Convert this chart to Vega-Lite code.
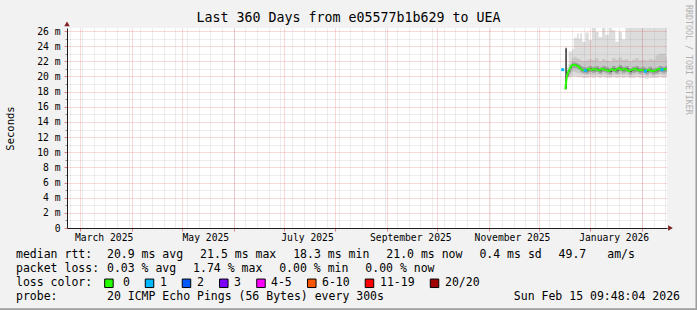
{
  "$schema": "https://vega.github.io/schema/vega-lite/v6.json",
  "width": 600,
  "height": 200,
  "autosize": "none",
  "padding": {"left": 67, "top": 28, "right": 30, "bottom": 82},
  "background": "#f2f2f2",
  "config": {
    "font": "DejaVu Sans Mono",
    "view": {"stroke": null, "fill": "#ffffff"},
    "text": {"font": "DejaVu Sans Mono"}
  },
  "datasets": {
    "pings": [
      {"t": "2025-12-15T10:00:00Z", "med": 20.9, "lc": "1", "seg": 0, "b1lo": null, "b1hi": null, "b2lo": null, "b2hi": null, "b3lo": null, "b3hi": null, "b4lo": null, "b4hi": null},
      {"t": "2025-12-17T00:00:00Z", "med": 18.3, "lc": "0", "seg": 1, "b1lo": 18.3, "b1hi": 23.8, "b2lo": 18.3, "b2hi": 23.8, "b3lo": 18.3, "b3hi": 23.8, "b4lo": 18.4, "b4hi": 23.7},
      {"t": "2025-12-18T00:00:00Z", "med": 20.2, "lc": "0", "seg": 1, "b1lo": 19.8, "b1hi": 21.2, "b2lo": 19.9, "b2hi": 20.8, "b3lo": 20.0, "b3hi": 20.5, "b4lo": 20.1, "b4hi": 20.3},
      {"t": "2025-12-19T00:00:00Z", "med": 20.7, "lc": "0", "seg": 1, "b1lo": 19.8, "b1hi": 23.3, "b2lo": 20.0, "b2hi": 21.6, "b3lo": 20.3, "b3hi": 21.0, "b4lo": 20.6, "b4hi": 20.8},
      {"t": "2025-12-20T00:00:00Z", "med": 21.2, "lc": "0", "seg": 1, "b1lo": 19.9, "b1hi": 23.3, "b2lo": 20.3, "b2hi": 22.0, "b3lo": 20.8, "b3hi": 21.5, "b4lo": 21.1, "b4hi": 21.3},
      {"t": "2025-12-21T00:00:00Z", "med": 21.5, "lc": "0", "seg": 1, "b1lo": 20.0, "b1hi": 23.6, "b2lo": 20.6, "b2hi": 22.4, "b3lo": 21.1, "b3hi": 21.8, "b4lo": 21.4, "b4hi": 21.6},
      {"t": "2025-12-22T00:00:00Z", "med": 21.5, "lc": "0", "seg": 1, "b1lo": 20.0, "b1hi": 25.1, "b2lo": 20.6, "b2hi": 22.6, "b3lo": 21.1, "b3hi": 21.9, "b4lo": 21.4, "b4hi": 21.6},
      {"t": "2025-12-23T00:00:00Z", "med": 21.5, "lc": "0", "seg": 1, "b1lo": 20.0, "b1hi": 25.1, "b2lo": 20.5, "b2hi": 22.5, "b3lo": 21.1, "b3hi": 21.8, "b4lo": 21.4, "b4hi": 21.6},
      {"t": "2025-12-24T00:00:00Z", "med": 21.4, "lc": "0", "seg": 1, "b1lo": 19.9, "b1hi": 25.7, "b2lo": 20.5, "b2hi": 22.4, "b3lo": 21.0, "b3hi": 21.7, "b4lo": 21.3, "b4hi": 21.5},
      {"t": "2025-12-25T00:00:00Z", "med": 21.3, "lc": "0", "seg": 1, "b1lo": 19.9, "b1hi": 25.0, "b2lo": 20.4, "b2hi": 22.3, "b3lo": 20.9, "b3hi": 21.6, "b4lo": 21.2, "b4hi": 21.4},
      {"t": "2025-12-26T00:00:00Z", "med": 21.0, "lc": "0", "seg": 1, "b1lo": 19.9, "b1hi": 25.7, "b2lo": 20.3, "b2hi": 22.1, "b3lo": 20.6, "b3hi": 21.4, "b4lo": 20.9, "b4hi": 21.1},
      {"t": "2025-12-27T00:00:00Z", "med": 20.9, "lc": "0", "seg": 1, "b1lo": 19.8, "b1hi": 24.6, "b2lo": 20.3, "b2hi": 22.0, "b3lo": 20.5, "b3hi": 21.3, "b4lo": 20.8, "b4hi": 21.0},
      {"t": "2025-12-29T00:00:00Z", "med": 20.8, "lc": "1", "seg": 1, "b1lo": 19.8, "b1hi": 25.8, "b2lo": 20.2, "b2hi": 22.1, "b3lo": 20.4, "b3hi": 21.2, "b4lo": 20.7, "b4hi": 20.9},
      {"t": "2025-12-31T00:00:00Z", "med": 21.0, "lc": "0", "seg": 1, "b1lo": 19.9, "b1hi": 24.8, "b2lo": 20.3, "b2hi": 22.3, "b3lo": 20.6, "b3hi": 21.4, "b4lo": 20.9, "b4hi": 21.1},
      {"t": "2026-01-02T00:00:00Z", "med": 20.9, "lc": "0", "seg": 1, "b1lo": 19.8, "b1hi": 27.0, "b2lo": 20.2, "b2hi": 22.2, "b3lo": 20.5, "b3hi": 21.3, "b4lo": 20.8, "b4hi": 21.0},
      {"t": "2026-01-04T00:00:00Z", "med": 21.0, "lc": "0", "seg": 1, "b1lo": 19.9, "b1hi": 25.9, "b2lo": 20.3, "b2hi": 22.4, "b3lo": 20.6, "b3hi": 21.4, "b4lo": 20.9, "b4hi": 21.1},
      {"t": "2026-01-06T00:00:00Z", "med": 20.8, "lc": "0", "seg": 1, "b1lo": 19.8, "b1hi": 25.2, "b2lo": 20.2, "b2hi": 22.0, "b3lo": 20.4, "b3hi": 21.2, "b4lo": 20.7, "b4hi": 20.9},
      {"t": "2026-01-08T00:00:00Z", "med": 21.0, "lc": "0", "seg": 1, "b1lo": 19.9, "b1hi": 27.0, "b2lo": 20.3, "b2hi": 22.3, "b3lo": 20.6, "b3hi": 21.4, "b4lo": 20.9, "b4hi": 21.1},
      {"t": "2026-01-10T00:00:00Z", "med": 20.9, "lc": "0", "seg": 1, "b1lo": 19.8, "b1hi": 25.5, "b2lo": 20.2, "b2hi": 22.1, "b3lo": 20.5, "b3hi": 21.3, "b4lo": 20.8, "b4hi": 21.0},
      {"t": "2026-01-12T00:00:00Z", "med": 20.7, "lc": "0", "seg": 1, "b1lo": 19.8, "b1hi": 27.0, "b2lo": 20.1, "b2hi": 22.0, "b3lo": 20.3, "b3hi": 21.1, "b4lo": 20.6, "b4hi": 20.8},
      {"t": "2026-01-14T00:00:00Z", "med": 21.0, "lc": "0", "seg": 1, "b1lo": 19.9, "b1hi": 26.1, "b2lo": 20.3, "b2hi": 22.4, "b3lo": 20.6, "b3hi": 21.4, "b4lo": 20.9, "b4hi": 21.1},
      {"t": "2026-01-16T00:00:00Z", "med": 20.8, "lc": "0", "seg": 1, "b1lo": 19.8, "b1hi": 24.6, "b2lo": 20.2, "b2hi": 22.2, "b3lo": 20.4, "b3hi": 21.2, "b4lo": 20.7, "b4hi": 20.9},
      {"t": "2026-01-18T00:00:00Z", "med": 21.1, "lc": "0", "seg": 1, "b1lo": 19.9, "b1hi": 25.9, "b2lo": 20.3, "b2hi": 22.5, "b3lo": 20.7, "b3hi": 21.5, "b4lo": 21.0, "b4hi": 21.2},
      {"t": "2026-01-20T00:00:00Z", "med": 20.9, "lc": "0", "seg": 1, "b1lo": 19.8, "b1hi": 24.9, "b2lo": 20.2, "b2hi": 22.2, "b3lo": 20.5, "b3hi": 21.3, "b4lo": 20.8, "b4hi": 21.0},
      {"t": "2026-01-22T00:00:00Z", "med": 21.0, "lc": "0", "seg": 1, "b1lo": 19.9, "b1hi": 27.0, "b2lo": 20.3, "b2hi": 22.3, "b3lo": 20.6, "b3hi": 21.4, "b4lo": 20.9, "b4hi": 21.1},
      {"t": "2026-01-24T00:00:00Z", "med": 20.7, "lc": "0", "seg": 1, "b1lo": 19.8, "b1hi": 27.0, "b2lo": 20.1, "b2hi": 22.0, "b3lo": 20.3, "b3hi": 21.1, "b4lo": 20.6, "b4hi": 20.8},
      {"t": "2026-01-26T00:00:00Z", "med": 20.9, "lc": "0", "seg": 1, "b1lo": 19.8, "b1hi": 27.0, "b2lo": 20.2, "b2hi": 22.2, "b3lo": 20.5, "b3hi": 21.3, "b4lo": 20.8, "b4hi": 21.0},
      {"t": "2026-01-28T00:00:00Z", "med": 21.0, "lc": "0", "seg": 1, "b1lo": 19.9, "b1hi": 27.0, "b2lo": 20.3, "b2hi": 22.4, "b3lo": 20.6, "b3hi": 21.4, "b4lo": 20.9, "b4hi": 21.1},
      {"t": "2026-01-30T00:00:00Z", "med": 20.8, "lc": "0", "seg": 1, "b1lo": 19.8, "b1hi": 27.0, "b2lo": 20.2, "b2hi": 22.1, "b3lo": 20.4, "b3hi": 21.2, "b4lo": 20.7, "b4hi": 20.9},
      {"t": "2026-02-01T00:00:00Z", "med": 20.9, "lc": "0", "seg": 1, "b1lo": 19.8, "b1hi": 27.0, "b2lo": 20.2, "b2hi": 22.2, "b3lo": 20.5, "b3hi": 21.3, "b4lo": 20.8, "b4hi": 21.0},
      {"t": "2026-02-03T00:00:00Z", "med": 20.7, "lc": "1", "seg": 1, "b1lo": 19.7, "b1hi": 27.0, "b2lo": 20.1, "b2hi": 22.1, "b3lo": 20.3, "b3hi": 21.1, "b4lo": 20.6, "b4hi": 20.8},
      {"t": "2026-02-05T00:00:00Z", "med": 20.9, "lc": "0", "seg": 1, "b1lo": 19.8, "b1hi": 27.0, "b2lo": 20.2, "b2hi": 22.3, "b3lo": 20.5, "b3hi": 21.3, "b4lo": 20.8, "b4hi": 21.0},
      {"t": "2026-02-07T00:00:00Z", "med": 20.7, "lc": "0", "seg": 1, "b1lo": 19.8, "b1hi": 27.0, "b2lo": 20.1, "b2hi": 22.2, "b3lo": 20.3, "b3hi": 21.1, "b4lo": 20.6, "b4hi": 20.8},
      {"t": "2026-02-09T00:00:00Z", "med": 20.8, "lc": "0", "seg": 1, "b1lo": 19.8, "b1hi": 27.0, "b2lo": 20.2, "b2hi": 22.8, "b3lo": 20.4, "b3hi": 21.2, "b4lo": 20.7, "b4hi": 20.9},
      {"t": "2026-02-11T00:00:00Z", "med": 21.0, "lc": "0", "seg": 1, "b1lo": 19.9, "b1hi": 27.0, "b2lo": 20.3, "b2hi": 23.0, "b3lo": 20.6, "b3hi": 21.4, "b4lo": 20.9, "b4hi": 21.1},
      {"t": "2026-02-13T00:00:00Z", "med": 20.9, "lc": "1", "seg": 1, "b1lo": 19.8, "b1hi": 27.0, "b2lo": 20.2, "b2hi": 23.0, "b3lo": 20.5, "b3hi": 21.3, "b4lo": 20.8, "b4hi": 21.0},
      {"t": "2026-02-15T00:00:00Z", "med": 21.0, "lc": "0", "seg": 1, "b1lo": 19.9, "b1hi": 27.0, "b2lo": 20.3, "b2hi": 22.6, "b3lo": 20.6, "b3hi": 21.4, "b4lo": 20.9, "b4hi": 21.1},
      {"t": "2026-02-16T00:00:00Z", "med": 21.0, "lc": "0", "seg": 1, "b1lo": 19.9, "b1hi": 27.0, "b2lo": 20.3, "b2hi": 22.6, "b3lo": 20.6, "b3hi": 21.4, "b4lo": 20.9, "b4hi": 21.1}
    ],
    "arrows": [
      {"t": "2025-02-21T00:00:00Z", "v": 26.93, "dir": "up"},
      {"t": "2026-02-18T02:00:00Z", "v": 0, "dir": "right"}
    ],
    "legend": [
      {"part": "title", "line": -15.88, "col": 47.84, "text": "Last 360 Days from e05577b1b629 to UEA"},
      {"part": "credit", "line": -16.81, "col": 96.69, "text": "RRDTOOL / TOBI OETIKER"},
      {"part": "txt", "line": 1, "col": 0, "text": "median rtt:"},
      {"part": "txt", "line": 1, "col": 13.09, "text": "20.9 ms avg"},
      {"part": "txt", "line": 1, "col": 26.49, "text": "21.5 ms max"},
      {"part": "txt", "line": 1, "col": 39.88, "text": "18.3 ms min"},
      {"part": "txt", "line": 1, "col": 53.28, "text": "21.0 ms now"},
      {"part": "txt", "line": 1, "col": 66.68, "text": "0.4 ms sd"},
      {"part": "txt", "line": 1, "col": 78.07, "text": "49.7"},
      {"part": "txt", "line": 1, "col": 85.07, "text": "am/s"},
      {"part": "txt", "line": 2, "col": 0, "text": "packet loss:"},
      {"part": "txt", "line": 2, "col": 13.09, "text": "0.03 % avg"},
      {"part": "txt", "line": 2, "col": 25.48, "text": "1.74 % max"},
      {"part": "txt", "line": 2, "col": 37.87, "text": "0.00 % min"},
      {"part": "txt", "line": 2, "col": 50.26, "text": "0.00 % now"},
      {"part": "txt", "line": 3, "col": 0, "text": "loss color:"},
      {"part": "txt", "line": 3, "col": 15.4, "text": "0"},
      {"part": "txt", "line": 3, "col": 20.72, "text": "1"},
      {"part": "txt", "line": 3, "col": 26.04, "text": "2"},
      {"part": "txt", "line": 3, "col": 31.37, "text": "3"},
      {"part": "txt", "line": 3, "col": 36.69, "text": "4-5"},
      {"part": "txt", "line": 3, "col": 44.03, "text": "6-10"},
      {"part": "txt", "line": 3, "col": 52.37, "text": "11-19"},
      {"part": "txt", "line": 3, "col": 61.73, "text": "20/20"},
      {"part": "sq", "line": 3, "col": 13.37, "lc": "0"},
      {"part": "sq", "line": 3, "col": 19.21, "lc": "1"},
      {"part": "sq", "line": 3, "col": 24.53, "lc": "2"},
      {"part": "sq", "line": 3, "col": 29.9, "lc": "3"},
      {"part": "sq", "line": 3, "col": 35.25, "lc": "4-5"},
      {"part": "sq", "line": 3, "col": 42.56, "lc": "6-10"},
      {"part": "sq", "line": 3, "col": 50.86, "lc": "11-19"},
      {"part": "sq", "line": 3, "col": 60.22, "lc": "20/20"},
      {"part": "txt", "line": 4, "col": 0, "text": "probe:"},
      {"part": "txt", "line": 4, "col": 13.09, "text": "20 ICMP Echo Pings (56 Bytes) every 300s"},
      {"part": "date", "line": 4, "col": 95.54, "text": "Sun Feb 15 09:48:04 2026"},
      {"part": "frame", "col": 97.91, "line": -17.2, "line2": 5.1},
      {"part": "frame", "col": -2.4, "col2": 98.2, "line": 4.92}
    ]
  },
  "layer": [
    {
      "data": {"name": "pings"},
      "mark": {"type": "area", "interpolate": "step-after", "color": "#dddddd", "clip": true},
      "encoding": {
        "x": {"field": "t", "type": "temporal",
              "scale": {"type": "utc", "domain": [{"year": 2025, "month": 2, "date": 21, "utc": true}, {"year": 2026, "month": 2, "date": 16, "utc": true}], "nice": false},
              "axis": {"orient": "bottom", "grid": true, "gridColor": "#8f8f8f", "gridOpacity": 0.32, "gridDash": [1, 1], "ticks": false, "labels": false, "domain": false, "tickCount": {"interval": "week", "step": 1}, "title": null, "zindex": 1}},
        "y": {"field": "b1lo", "type": "quantitative",
              "scale": {"domain": [0, 26.4], "nice": false, "zero": false},
              "axis": {"orient": "left", "grid": true, "gridColor": "#8f8f8f", "gridOpacity": 0.32, "gridDash": [1, 1], "ticks": true, "tickColor": "#8f8f8f", "tickSize": 2, "labels": false, "domain": false, "values": [1, 3, 5, 7, 9, 11, 13, 15, 17, 19, 21, 23, 25], "title": null, "zindex": 1}},
        "y2": {"field": "b1hi"}
      }
    },
    {
      "data": {"name": "pings"},
      "mark": {"type": "area", "interpolate": "step-after", "color": "#c8c8c8", "clip": true},
      "encoding": {
        "x": {"field": "t", "type": "temporal",
              "scale": {"type": "utc", "domain": [{"year": 2025, "month": 2, "date": 21, "utc": true}, {"year": 2026, "month": 2, "date": 16, "utc": true}], "nice": false},
              "axis": {"orient": "bottom", "grid": true, "gridColor": "#de4f4f", "gridOpacity": 0.42, "gridDash": [1, 1], "ticks": true, "tickColor": "#de4f4f", "tickOpacity": 0.7, "tickSize": 3, "labels": false, "domain": true, "domainColor": "#1f1f1f", "tickCount": {"interval": "month", "step": 1}, "title": null, "zindex": 1}},
        "y": {"field": "b2lo", "type": "quantitative",
              "scale": {"domain": [0, 26.4], "nice": false, "zero": false},
              "axis": {"orient": "left", "grid": true, "gridColor": "#de4f4f", "gridOpacity": 0.42, "gridDash": [1, 1], "ticks": true, "tickColor": "#de4f4f", "tickOpacity": 0.7, "tickSize": 3, "labels": true, "labelExpr": "datum.value == 0 ? '0' : datum.value + ' m'", "labelFont": "DejaVu Sans Mono", "labelFontSize": 9.7, "labelColor": "#000000", "labelPadding": 4, "domain": true, "domainColor": "#1f1f1f", "values": [0, 2, 4, 6, 8, 10, 12, 14, 16, 18, 20, 22, 24, 26], "title": "Seconds", "titleFont": "DejaVu Sans Mono", "titleFontSize": 10.5, "titleFontWeight": "normal", "titleColor": "#000000", "titlePadding": 21, "zindex": 1}},
        "y2": {"field": "b2hi"}
      }
    },
    {
      "data": {"name": "pings"},
      "mark": {"type": "area", "interpolate": "step-after", "color": "#a0a0a0", "clip": true},
      "encoding": {
        "x": {"field": "t", "type": "temporal",
              "scale": {"type": "utc", "domain": [{"year": 2025, "month": 2, "date": 21, "utc": true}, {"year": 2026, "month": 2, "date": 16, "utc": true}], "nice": false},
              "axis": {"orient": "bottom", "grid": false, "ticks": false, "domain": false, "labels": true,
                       "values": [{"year": 2025, "month": 3, "date": 15, "utc": true}, {"year": 2025, "month": 5, "date": 15, "utc": true}, {"year": 2025, "month": 7, "date": 15, "utc": true}, {"year": 2025, "month": 9, "date": 15, "utc": true}, {"year": 2025, "month": 11, "date": 15, "utc": true}, {"year": 2026, "month": 1, "date": 15, "utc": true}],
                       "labelExpr": "utcFormat(datum.value, '%B %Y')", "labelFont": "DejaVu Sans Mono", "labelFontSize": 9.7, "labelColor": "#000000", "labelPadding": 4, "labelFlush": false, "labelOverlap": false, "title": null, "zindex": 1}},
        "y": {"field": "b3lo", "type": "quantitative", "scale": {"domain": [0, 26.4], "nice": false, "zero": false}, "axis": null},
        "y2": {"field": "b3hi"}
      }
    },
    {
      "data": {"name": "pings"},
      "mark": {"type": "area", "interpolate": "step-after", "color": "#505050", "clip": true},
      "encoding": {
        "x": {"field": "t", "type": "temporal", "scale": {"type": "utc", "domain": [{"year": 2025, "month": 2, "date": 21, "utc": true}, {"year": 2026, "month": 2, "date": 16, "utc": true}], "nice": false}, "axis": null},
        "y": {"field": "b4lo", "type": "quantitative", "scale": {"domain": [0, 26.4], "nice": false, "zero": false}, "axis": null},
        "y2": {"field": "b4hi"}
      }
    },
    {
      "data": {"name": "pings"},
      "mark": {"type": "line", "color": "#26ff00", "strokeWidth": 2, "clip": true},
      "encoding": {
        "x": {"field": "t", "type": "temporal", "scale": {"type": "utc", "domain": [{"year": 2025, "month": 2, "date": 21, "utc": true}, {"year": 2026, "month": 2, "date": 16, "utc": true}], "nice": false}, "axis": null},
        "y": {"field": "med", "type": "quantitative", "scale": {"domain": [0, 26.4], "nice": false, "zero": false}, "axis": null},
        "detail": {"field": "seg", "type": "nominal"}
      }
    },
    {
      "data": {"name": "pings"},
      "transform": [{"filter": "datum.lc != '0'"}],
      "mark": {"type": "point", "shape": "square", "filled": true, "size": 9, "opacity": 1, "clip": true},
      "encoding": {
        "x": {"field": "t", "type": "temporal", "scale": {"type": "utc", "domain": [{"year": 2025, "month": 2, "date": 21, "utc": true}, {"year": 2026, "month": 2, "date": 16, "utc": true}], "nice": false}, "axis": null},
        "y": {"field": "med", "type": "quantitative", "scale": {"domain": [0, 26.4], "nice": false, "zero": false}, "axis": null},
        "color": {"field": "lc", "type": "nominal", "scale": {"domain": ["0", "1", "2", "3", "4-5", "6-10", "11-19", "20/20"], "range": ["#26ff00", "#00b8ff", "#0059ff", "#7e00ff", "#ff00ff", "#ff5500", "#ff0000", "#a10000"]}, "legend": null}
      }
    },
    {
      "data": {"name": "arrows"},
      "mark": {"type": "point", "filled": true, "size": 30, "color": "#801f1f", "opacity": 1, "clip": false},
      "encoding": {
        "x": {"field": "t", "type": "temporal", "scale": {"type": "utc", "domain": [{"year": 2025, "month": 2, "date": 21, "utc": true}, {"year": 2026, "month": 2, "date": 16, "utc": true}], "nice": false}, "axis": null},
        "y": {"field": "v", "type": "quantitative", "scale": {"domain": [0, 26.4], "nice": false, "zero": false}, "axis": null},
        "shape": {"field": "dir", "type": "nominal", "scale": {"domain": ["up", "right"], "range": ["triangle-up", "triangle-right"]}, "legend": null}
      }
    },
    {
      "data": {"name": "legend"},
      "transform": [{"filter": "datum.part == 'txt'"}],
      "mark": {"type": "text", "align": "left", "baseline": "middle", "font": "DejaVu Sans Mono", "fontSize": 11.5, "color": "#000000", "clip": false},
      "encoding": {
        "x": {"field": "col", "type": "quantitative", "scale": {"domain": [0, 100], "range": [-51, 644], "nice": false, "zero": false}, "axis": null},
        "y": {"field": "line", "type": "quantitative", "scale": {"domain": [0, 10], "range": [213.3, 353.3], "nice": false, "zero": false}, "axis": null},
        "text": {"field": "text"}
      }
    },
    {
      "data": {"name": "legend"},
      "transform": [{"filter": "datum.part == 'date'"}],
      "mark": {"type": "text", "align": "right", "baseline": "middle", "font": "DejaVu Sans Mono", "fontSize": 11.5, "color": "#000000", "clip": false},
      "encoding": {
        "x": {"field": "col", "type": "quantitative", "scale": {"domain": [0, 100], "range": [-51, 644], "nice": false, "zero": false}, "axis": null},
        "y": {"field": "line", "type": "quantitative", "scale": {"domain": [0, 10], "range": [213.3, 353.3], "nice": false, "zero": false}, "axis": null},
        "text": {"field": "text"}
      }
    },
    {
      "data": {"name": "legend"},
      "transform": [{"filter": "datum.part == 'title'"}],
      "mark": {"type": "text", "align": "center", "baseline": "middle", "font": "DejaVu Sans Mono", "fontSize": 13.3, "color": "#000000", "clip": false},
      "encoding": {
        "x": {"field": "col", "type": "quantitative", "scale": {"domain": [0, 100], "range": [-51, 644], "nice": false, "zero": false}, "axis": null},
        "y": {"field": "line", "type": "quantitative", "scale": {"domain": [0, 10], "range": [212.3, 352.3], "nice": false, "zero": false}, "axis": null},
        "text": {"field": "text"}
      }
    },
    {
      "data": {"name": "legend"},
      "transform": [{"filter": "datum.part == 'credit'"}],
      "mark": {"type": "text", "align": "left", "baseline": "middle", "angle": 90, "font": "DejaVu Sans Mono", "fontSize": 8.3, "color": "#b0b0b0", "clip": false},
      "encoding": {
        "x": {"field": "col", "type": "quantitative", "scale": {"domain": [0, 100], "range": [-51, 644], "nice": false, "zero": false}, "axis": null},
        "y": {"field": "line", "type": "quantitative", "scale": {"domain": [0, 10], "range": [212.3, 352.3], "nice": false, "zero": false}, "axis": null},
        "text": {"field": "text"}
      }
    },
    {
      "data": {"name": "legend"},
      "transform": [{"filter": "datum.part == 'sq'"}],
      "mark": {"type": "point", "shape": "square", "filled": true, "size": 72, "stroke": "#000000", "strokeWidth": 1, "opacity": 1, "clip": false},
      "encoding": {
        "x": {"field": "col", "type": "quantitative", "scale": {"domain": [0, 100], "range": [-51, 644], "nice": false, "zero": false}, "axis": null},
        "y": {"field": "line", "type": "quantitative", "scale": {"domain": [0, 10], "range": [213.3, 353.3], "nice": false, "zero": false}, "axis": null},
        "color": {"field": "lc", "type": "nominal", "scale": {"domain": ["0", "1", "2", "3", "4-5", "6-10", "11-19", "20/20"], "range": ["#26ff00", "#00b8ff", "#0059ff", "#7e00ff", "#ff00ff", "#ff5500", "#ff0000", "#a10000"]}, "legend": null}
      }
    },
    {
      "data": {"name": "legend"},
      "transform": [{"filter": "datum.part == 'frame'"}],
      "mark": {"type": "rule", "color": "#9e9e9e", "strokeWidth": 2, "clip": false},
      "encoding": {
        "x": {"field": "col", "type": "quantitative", "scale": {"domain": [0, 100], "range": [-51, 644], "nice": false, "zero": false}, "axis": null},
        "x2": {"field": "col2"},
        "y": {"field": "line", "type": "quantitative", "scale": {"domain": [0, 10], "range": [212.3, 352.3], "nice": false, "zero": false}, "axis": null},
        "y2": {"field": "line2"}
      }
    }
  ],
  "resolve": {
    "scale": {"x": "independent", "y": "independent"},
    "axis": {"x": "independent", "y": "independent"}
  }
}
